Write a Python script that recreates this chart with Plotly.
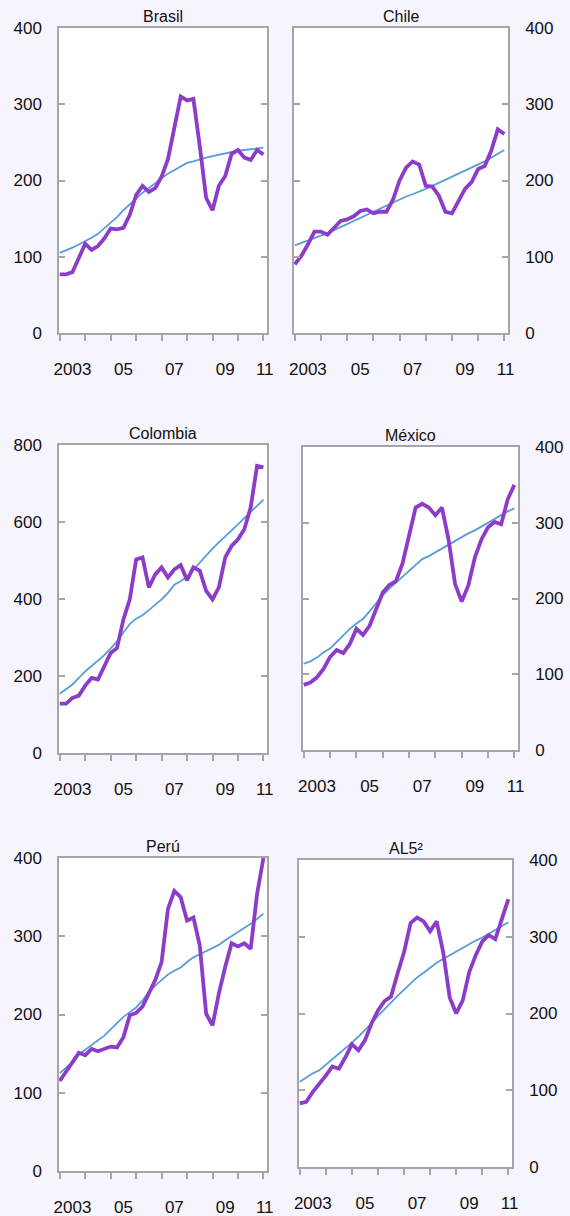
import plotly.graph_objects as go

# quarterly series, 2003Q1 .. 2011Q1
years = [y for y in range(2003, 2011) for _ in range(4)] + [2011]
quarter = [q for _ in range(2003, 2011) for q in range(1, 5)] + [1]

brasil = [77, 77, 80, 98, 117, 109, 114, 124, 137, 136, 138, 155, 181, 193, 185, 190, 205,
          228, 270, 310, 305, 307, 245, 177, 161, 193, 206, 235, 240, 230, 227, 240, 234]
brasil_trend = [105, 108, 112, 116, 120, 125, 130, 137, 145, 152, 161, 169, 177, 184, 190, 197, 203,
                209, 214, 218, 223, 225, 228, 230, 232, 234, 236, 238, 239, 240, 241, 242, 243]

chile = [90, 101, 116, 133, 133, 129, 138, 147, 149, 153, 160, 162, 157, 159, 159, 175, 200,
         217, 225, 221, 193, 192, 180, 159, 157, 173, 189, 198, 215, 219, 239, 267, 261]
chile_trend = [115, 118, 121, 124, 128, 131, 135, 139, 144, 148, 152, 156, 160, 164, 168, 172, 176,
               179, 182, 185, 189, 193, 197, 201, 204, 208, 212, 216, 220, 225, 230, 235, 240]

colombia = [128, 128, 143, 149, 175, 195, 191, 226, 260, 273, 347, 399, 503, 508, 430, 464, 482,
            456, 477, 488, 449, 482, 473, 421, 399, 430, 508, 538, 555, 581, 638, 746, 742]
colombia_trend = [154, 166, 178, 195, 212, 226, 239, 254, 272, 290, 313, 335, 349, 358, 371, 385, 399,
                  416, 437, 446, 458, 476, 495, 513, 531, 547, 562, 577, 594, 610, 627, 642, 658]

mexico = [86, 89, 96, 107, 123, 132, 128, 140, 160, 152, 164, 186, 208, 218, 223, 246, 283,
          320, 325, 320, 310, 320, 278, 219, 196, 217, 254, 278, 294, 301, 298, 331, 350]
mexico_trend = [114, 117, 122, 129, 134, 143, 152, 160, 167, 173, 183, 194, 204, 213, 221, 228, 236,
                244, 252, 256, 261, 266, 271, 277, 281, 286, 290, 295, 301, 306, 311, 315, 319]

peru = [115, 127, 138, 151, 148, 156, 153, 156, 159, 158, 171, 199, 202, 210, 227, 244, 267,
        335, 358, 350, 320, 324, 288, 201, 186, 227, 261, 291, 287, 291, 284, 354, 400]
peru_trend = [125, 132, 139, 149, 155, 160, 166, 173, 181, 189, 197, 203, 209, 218, 229, 237, 244,
              251, 256, 260, 267, 273, 277, 281, 285, 289, 295, 300, 306, 311, 316, 322, 329]

al5 = [83, 85, 98, 108, 119, 131, 128, 143, 160, 152, 165, 187, 204, 216, 222, 252, 280,
       318, 325, 320, 307, 320, 280, 221, 200, 217, 254, 276, 294, 302, 297, 323, 349]
al5_trend = [111, 117, 122, 126, 133, 141, 148, 155, 162, 170, 178, 187, 197, 206, 214, 223, 231,
             239, 247, 253, 260, 266, 271, 276, 281, 286, 290, 295, 299, 304, 308, 314, 319]

titles = ["Brasil", "Chile", "Colombia", "México", "Perú", "AL5²"]
series = [brasil, chile, colombia, mexico, peru, al5]
trends = [brasil_trend, chile_trend, colombia_trend, mexico_trend, peru_trend, al5_trend]
y_max = [400, 400, 800, 400, 400, 400]
y_step = [100, 100, 200, 100, 100, 100]

x_label_pos = [2003.5, 2005.5, 2007.5, 2009.5, 2011.05]
x_label_text = ["2003", "05", "07", "09", "11"]
year_ticks = list(range(2003, 2012))

W, H = 570, 1216
# panel boxes in px: left, top, right, bottom
boxes = [(59, 28, 267, 333), (294, 28, 508, 333),
         (59, 445, 267, 753), (303, 447, 518, 750),
         (59, 858, 267, 1171), (299, 860, 512, 1167)]

PURPLE = "#8C3CC8"
BLUE = "#5B9BD8"
GREY = "#A6A6A6"
BG = "#F6F4FD"
FONT = "Liberation Sans, Arial, sans-serif"
FS = 17

x = [y + (q - 1) / 4 for y, q in zip(years, quarter)]

fig = go.Figure()
layout = {}
for i, (name, s, t) in enumerate(zip(titles, series, trends)):
    n = i + 1
    xa, ya = f"x{n}", f"y{n}"
    fig.add_trace(go.Scatter(x=x, y=t, mode="lines", xaxis=xa, yaxis=ya,
                             line=dict(color=BLUE, width=1.8), showlegend=False))
    fig.add_trace(go.Scatter(x=x, y=s, mode="lines", xaxis=xa, yaxis=ya,
                             line=dict(color=PURPLE, width=3.8), showlegend=False))
    l, tp, r, b = boxes[i]
    right = i % 2 == 1
    layout[f"xaxis{n}"] = dict(
        domain=[l / W, r / W], anchor=ya, range=[2002.97, 2011.14], automargin=False,
        tickmode="array", tickvals=x_label_pos, ticktext=x_label_text, ticks="",
        ticklabelstandoff=20,
        minor=dict(tickmode="array", tickvals=year_ticks, ticks="outside",
                   ticklen=6, tickwidth=1.5, tickcolor=GREY),
        showline=True, linecolor=GREY, linewidth=1.5, mirror=True,
        showgrid=False, zeroline=False,
        tickfont=dict(size=FS, color="#111", family=FONT),
    )
    layout[f"yaxis{n}"] = dict(
        domain=[1 - b / H, 1 - tp / H], anchor=xa, range=[0, y_max[i]], automargin=False,
        tickmode="linear", tick0=0, dtick=y_step[i], ticks="inside",
        ticklen=6, tickwidth=1.5, tickcolor=GREY, side="right" if right else "left",
        ticklabelstandoff=12,
        showline=True, linecolor=GREY, linewidth=1.5, mirror="ticks",
        showgrid=False, zeroline=False,
        tickfont=dict(size=FS, color="#111", family=FONT),
    )
    fig.add_annotation(text=name, xref="paper", yref="paper",
                       x=(l + r) / 2 / W, y=1 - tp / H, xanchor="center", yanchor="bottom",
                       yshift=1, showarrow=False,
                       font=dict(size=16, color="#111", family=FONT))

fig.update_layout(
    **layout,
    width=W, height=H, margin=dict(l=0, r=0, t=0, b=0),
    paper_bgcolor=BG, plot_bgcolor="white",
    font=dict(family=FONT),
)
# drop the browser's default page margin so the figure sits at the window corner
fig.write_html("out.html", config={"displayModeBar": False},
               post_script="document.body.style.margin='0';")
